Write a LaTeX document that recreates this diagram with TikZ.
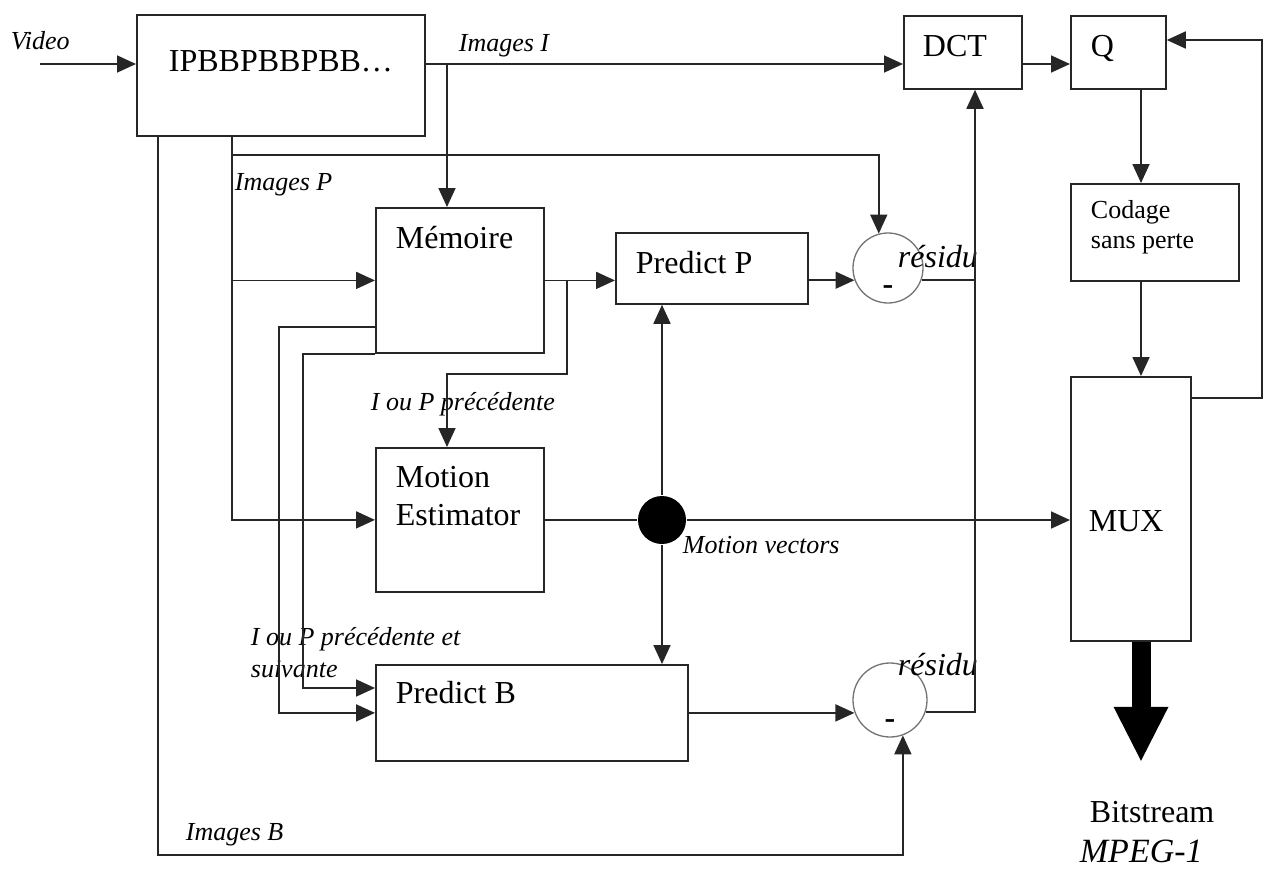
\documentclass[tikz,border=0pt]{standalone}
\usepackage{fontspec}
\setmainfont{Liberation Serif}
\usetikzlibrary{arrows.meta}

\begin{document}
\begin{tikzpicture}[x=1pt,y=-1pt,line width=1.8pt,color=black!85,
  >={Triangle[length=19pt,width=17pt]},
  blok/.style={draw,line width=1.8pt,inner sep=0pt,anchor=north west},
  txt/.style={text=black,font=\fontsize{32}{38}\selectfont,anchor=base west,inner sep=0pt},
  lbl/.style={text=black,font=\fontsize{26}{32}\selectfont\itshape,anchor=base west,inner sep=0pt},
  sum/.style={circle,draw=black!55,line width=1.3pt,inner sep=0pt},
  minus/.style={text=black,font=\fontsize{32}{32}\selectfont\bfseries,inner sep=0pt}]
  \useasboundingbox (0,0) rectangle (1272,875);
  % blocs
  \node[blok,minimum width=288pt,minimum height=121pt] (seq) at (136,14) {};
  \node[blok,minimum width=118pt,minimum height=73pt] (dct) at (903,15) {};
  \node[blok,minimum width=95pt,minimum height=73pt] (q) at (1070,15) {};
  \node[blok,minimum width=168pt,minimum height=97pt] (cod) at (1070,183) {};
  \node[blok,minimum width=120pt,minimum height=264pt] (mux) at (1070,376) {};
  \node[blok,minimum width=168pt,minimum height=145pt] (mem) at (375,207) {};
  \node[blok,minimum width=192pt,minimum height=71pt] (pp) at (615,232) {};
  \node[blok,minimum width=168pt,minimum height=144pt] (me) at (375,447) {};
  \node[blok,minimum width=312pt,minimum height=96pt] (pb) at (375,664) {};
  \node[sum,minimum size=70pt] (sp) at (888,268) {};
  \node[sum,minimum size=74pt] (sb) at (890,700) {};
  \node[circle,fill=black,minimum size=48pt,inner sep=0pt] (dot) at (662,520) {};
  % textes (multi-ligne : base = derniere ligne)
  \node[txt] (seqt) at (168,72) {IPBBPBBPBB…};
  \node[txt] (dctt) at (922,57) {DCT};
  \node[txt] (qt) at (1090,57) {Q};
  \node[txt,font=\fontsize{26}{30}\selectfont,align=left] (codt) at (1090,248) {Codage\\sans perte};
  \node[txt] (muxt) at (1088,531) {MUX};
  \node[txt] (memt) at (395,248) {Mémoire};
  \node[txt] (ppt) at (635,273) {Predict P};
  \node[txt,align=left] (met) at (395,525) {Motion\\Estimator};
  \node[txt] (pbt) at (395,703) {Predict B};
  \node[minus] (spm) at ([yshift=-22pt]sp.center) {-};
  \node[minus] (sbm) at ([yshift=-24pt]sb.center) {-};
  \node[lbl] (video) at (10,50) {Video};
  \node[lbl] (imi) at (458,52) {Images I};
  \node[lbl] (imp) at (234,190) {Images P};
  \node[lbl] (imb) at (185,840) {Images B};
  \node[lbl] (prec) at (370,410) {I ou P précédente};
  \node[lbl,align=left] (precs) at (250,677) {I ou P précédente et\\suivante};
  \node[lbl] (mv) at (682,553) {Motion vectors};
  \node[lbl,font=\fontsize{32}{38}\selectfont\itshape] (resp) at (897,267) {résidu};
  \node[lbl,font=\fontsize{32}{38}\selectfont\itshape] (resb) at (897,675) {résidu};
  \node[txt] (bits) at (1089,822) {Bitstream};
  \node[lbl,font=\fontsize{34}{40}\selectfont\itshape] (mpeg) at (1079,862) {MPEG-1};
  % rails
  \coordinate (vin) at (40,64);
  \coordinate (yI) at (0,64);
  \coordinate (xI) at (447,0);
  \coordinate (xB) at (158,0);
  \coordinate (xP) at (232,0);
  \coordinate (xm) at (567,0);
  \coordinate (xa) at (279,0);
  \coordinate (xb) at (303,0);
  \coordinate (xr) at (975,0);
  \coordinate (xq) at (1141,0);
  \coordinate (fb) at (1262,40);
  % liaisons
  \draw[->] (vin) -- (vin -| seq.west);
  \draw[->] (yI -| seq.east) -- (yI -| dct.west);
  \draw[->] (yI -| dct.east) -- (yI -| q.west);
  \draw[->] (xI |- yI) -- (xI |- mem.north);
  \draw[->] (xq |- q.south) -- (xq |- cod.north);
  \draw[->] (xq |- cod.south) -- (xq |- mux.north);
  \draw[->] (mux.east |- 0,398) -| (fb) -- (q.east |- fb);
  \draw[color=black,line width=19pt,-{Triangle[length=54pt,width=55pt,line width=0pt]}] (xq |- mux.south) -- ++(0,119);
  \draw[->] (xB |- seq.south) |- (sb.-70 |- 0,855) -- (sb.-70);
  \draw[->] (xP |- seq.south) |- (me.west);
  \draw[->] (xP |- 0,155) -| (sp.105);
  \draw[->] (xP |- mem.west) -- (mem.west);
  \draw[->] (mem.east) -- (pp.west |- mem.east);
  \draw[->] (xm |- mem.east) |- (xI |- 0,374) -- (xI |- me.north);
  \draw[->] (pp.east |- sp.200) -- (sp.200);
  \draw (sp.-20) -- (xr |- sp.-20);
  \draw[->] (pb.east) -- (pb.east -| sb.199);
  \draw[->] (sb.-19) -| (xr |- dct.south);
  \draw (me.east |- dot) -- (dot);
  \draw[->] (dot) -- (mux.west |- dot);
  \draw[->] (dot) -- (dot |- pp.south);
  \draw[->] (dot) -- (dot |- pb.north);
  \draw[->] (mem.west |- 0,327) -| (xa |- pb.west) -- (pb.west);
  \draw[->] (mem.south west) -| (xb |- 0,688) -- (pb.west |- 0,688);
\end{tikzpicture}
\end{document}
